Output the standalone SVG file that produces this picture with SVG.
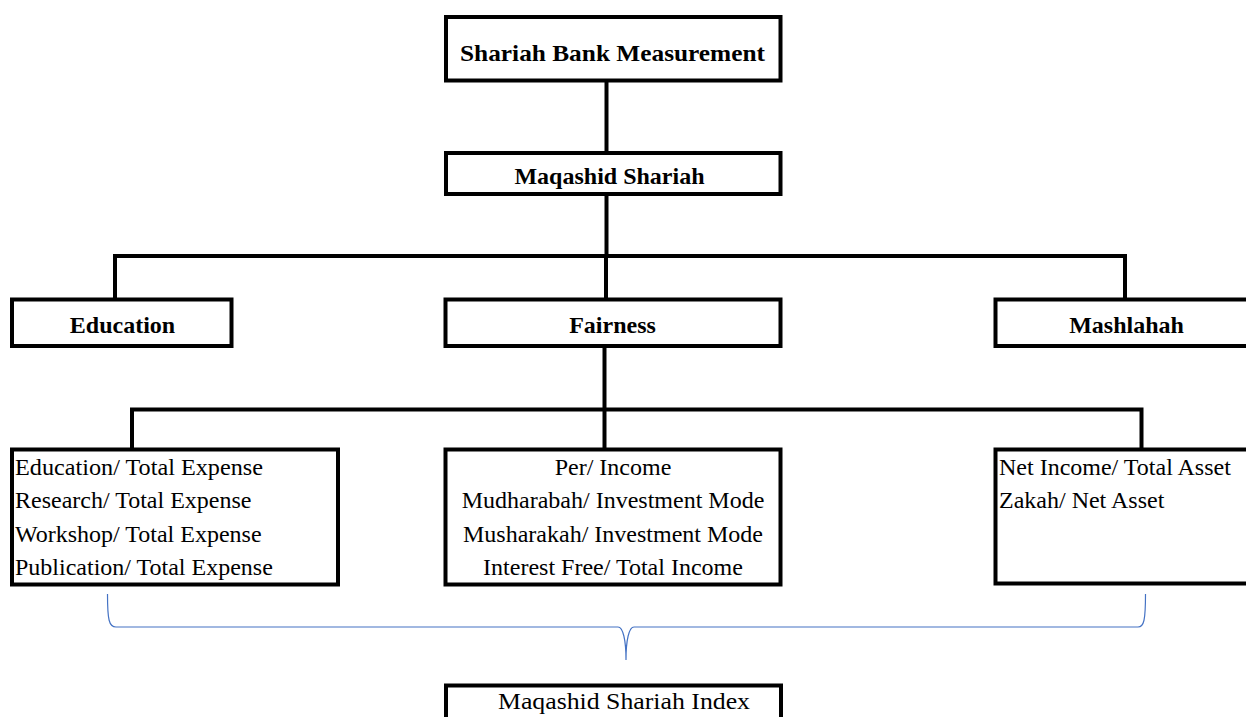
<svg xmlns="http://www.w3.org/2000/svg" width="1246" height="717" viewBox="0 0 1246 717">
<style>
.box{fill:#fff;stroke:#000;stroke-width:4}
.ln{fill:none;stroke:#000;stroke-width:4}
.brace{fill:none;stroke:#4472C4;stroke-width:1.2}
.b{font-family:"Liberation Serif","Times New Roman",serif;font-weight:bold;font-size:24px;fill:#000}
.r{font-family:"Liberation Serif","Times New Roman",serif;font-size:24px;fill:#000}
.c{text-anchor:middle}
</style>
<rect width="1246" height="717" fill="#fff"/>
<g id="connectors">
<path class="ln" d="M606.5 80.5V153"/>
<path class="ln" d="M606.5 194V256"/>
<path class="ln" d="M115 299.5V256H1125V299.5"/>
<path class="ln" d="M606 256V299.5"/>
<path class="ln" d="M604.5 346V449.5"/>
<path class="ln" d="M132 449.5V409.5H1141.5V449.5" stroke-width="3.6"/>
<path class="brace" d="M107.5 594C107.5 620 109 627 116 627H618C623 627 626 640 626 660C626 640 629 627 634 627H1138C1144 627 1145.5 620 1145.5 594"/>
</g>
<g id="node-top">
<rect class="box" x="446" y="17" width="334.5" height="63.5"/>
<text class="b c" x="612.5" y="61" textLength="305" lengthAdjust="spacingAndGlyphs">Shariah Bank Measurement</text>
</g>
<g id="node-maqashid">
<rect class="box" x="446" y="153" width="334.5" height="41"/>
<text class="b c" x="609.5" y="184">Maqashid Shariah</text>
</g>
<g id="node-education">
<rect class="box" x="12" y="299.5" width="219.5" height="46.5"/>
<text class="b c" x="122.5" y="333">Education</text>
</g>
<g id="node-fairness">
<rect class="box" x="445.5" y="299.5" width="335" height="46.5"/>
<text class="b c" x="612.5" y="333">Fairness</text>
</g>
<g id="node-mashlahah">
<rect class="box" x="995.5" y="299.5" width="263" height="46.5"/>
<text class="b c" x="1126.5" y="333">Mashlahah</text>
</g>
<g id="node-edu-indicators">
<rect class="box" x="12" y="449.5" width="326" height="135"/>
<text class="r" x="15" y="475" textLength="248" lengthAdjust="spacingAndGlyphs">Education/ Total Expense</text>
<text class="r" x="15" y="508">Research/ Total Expense</text>
<text class="r" x="15" y="541.5">Workshop/ Total Expense</text>
<text class="r" x="15" y="574.5">Publication/ Total Expense</text>
</g>
<g id="node-fair-indicators">
<rect class="box" x="445.5" y="449.5" width="335" height="135"/>
<text class="r c" x="613" y="475">Per/ Income</text>
<text class="r c" x="613" y="508">Mudharabah/ Investment Mode</text>
<text class="r c" x="613" y="541.5">Musharakah/ Investment Mode</text>
<text class="r c" x="613" y="574.5">Interest Free/ Total Income</text>
</g>
<g id="node-mash-indicators">
<rect class="box" x="995.5" y="449.5" width="263" height="134"/>
<text class="r" x="999" y="475">Net Income/ Total Asset</text>
<text class="r" x="999" y="508">Zakah/ Net Asset</text>
</g>
<g id="node-index">
<rect class="box" x="446" y="685.5" width="335" height="60"/>
<text class="r c" x="624" y="709" font-size="26" textLength="252" lengthAdjust="spacingAndGlyphs">Maqashid Shariah Index</text>
</g>
</svg>
